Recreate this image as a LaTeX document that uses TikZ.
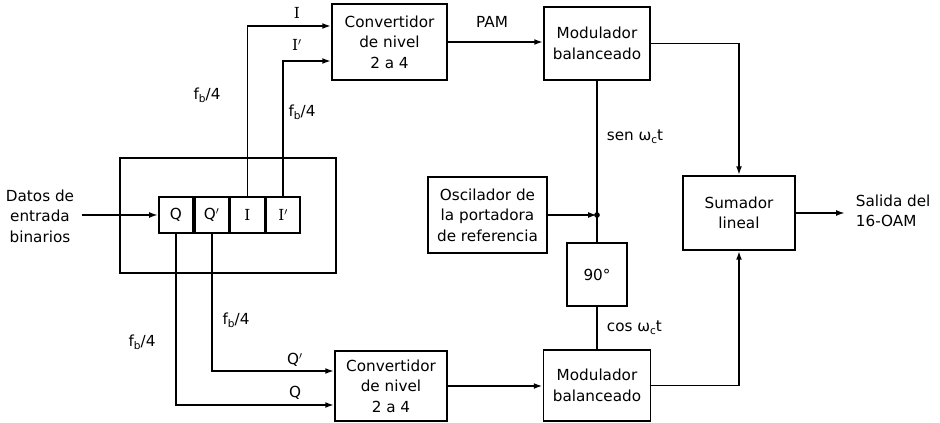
\documentclass[tikz,border=0pt]{standalone}
\usepackage{fontspec}
\setmainfont{DejaVu Sans}
\newfontfamily\serifI{DejaVu Serif}
\usetikzlibrary{arrows.meta,calc}
\newcommand\subx[1]{\raisebox{-0.4ex}{\fontsize{9}{9}\selectfont #1}}
\begin{document}
\begin{tikzpicture}[x=0.03cm,y=-0.03cm,
  font=\fontsize{13}{17.5}\selectfont,
  line width=1.5pt,
  blk/.style={draw,rectangle,align=center,inner sep=1pt},
  cell/.style={draw,rectangle,minimum width=1.02cm,minimum height=1.08cm,inner sep=0pt,anchor=west},
  arr/.style={-{Latex[length=7.5pt,width=5pt]}},
  lbl/.style={inner sep=0pt}]
\useasboundingbox (0,0) rectangle (940,423);

% blocks
\node[blk,minimum width=6.48cm,minimum height=3.45cm] (outer) at (228,215.5) {};
\node[cell] (Q) at (158,215) {Q};
\node[cell] (Qp) at (Q.east) {Q$'$};
\node[cell] (I) at (Qp.east) {\serifI I};
\node[cell] (Ip) at (I.east) {\serifI I$'$};

\node[blk,minimum width=3.45cm,minimum height=2.28cm] (cv1) at (389.5,42) {Convertidor\\de nivel\\2 a 4};
\node[blk,minimum width=3.18cm,minimum height=2.19cm] (mod1) at (597,43.5) {Modulador\\balanceado};
\node[blk,minimum width=3.57cm,minimum height=2.28cm] (osc) at (487.5,215) {Oscilador de\\la portadora\\de referencia};
\node[blk,minimum width=1.8cm,minimum height=1.89cm] (ninety) at (597,274.5) {90°};
\node[blk,minimum width=3.21cm,minimum height=2.13cm] (mod2) at (597,385.5) {Modulador\\balanceado};
\node[blk,minimum width=3.36cm,minimum height=2.1cm] (cv2) at (391,386) {Convertidor\\de nivel\\2 a 4};
\node[blk,minimum width=3.36cm,minimum height=2.22cm] (sum) at (739,213) {Sumador\\lineal};

% input
\node[lbl,align=center] (datos) at (40,216) {Datos de\\entrada\\binarios};
\coordinate (in) at (82,215);
\draw[arr] (in) -- (Q.west);

% I and I' to converter 1
\draw[arr] (I.north) |- ($(cv1.west)+(0,-16)$);
\draw[arr] (Ip.north) |- ($(cv1.west)+(0,19)$);
% Q and Q' to converter 2
\draw[arr] (Qp.south) |- ($(cv2.west)+(0,-15)$);
\draw[arr] (Q.south) |- ($(cv2.west)+(0,19)$);

% converters to modulators
\draw[arr] (cv1.east) -- (cv1.east -| mod1.west);
\draw[arr] (cv2.east) -- (cv2.east -| mod2.west);

% carrier
\coordinate (j) at (mod1.south |- osc.east);
\draw (mod1.south) -- (ninety.north);
\draw[arr] (osc.east) -- (j);
\fill (j) circle (2.4pt);
\draw (ninety.south) -- (mod2.north);

% to summer
\draw[arr] (mod1.east) -| (sum.north);
\draw[arr] (mod2.east) -| (sum.south);
\coordinate (out) at (845,213);
\draw[arr] (sum.east) -- (out);
\node[lbl,align=left,anchor=west] (salida) at (855,211) {Salida del\\16-OAM};

% labels
\node[lbl] (lI) at (297,13) {\serifI I};
\node[lbl] (lIp) at (297,45) {\serifI I$'$};
\node[lbl] (lQp) at (295,360) {Q$'$};
\node[lbl] (lQ) at (295,393) {Q};
\node[lbl] (pam) at (492,22) {PAM};
\node[lbl] (f1) at (207,95) {f\subx{b}/4};
\node[lbl] (f2) at (302,112) {f\subx{b}/4};
\node[lbl] (f3) at (236,320) {f\subx{b}/4};
\node[lbl] (f4) at (142,342) {f\subx{b}/4};
\node[lbl,anchor=west] (sen) at (606,137) {sen ω\subx{c}t};
\node[lbl,anchor=west] (cos) at (606,328) {cos ω\subx{c}t};
\end{tikzpicture}
\end{document}
